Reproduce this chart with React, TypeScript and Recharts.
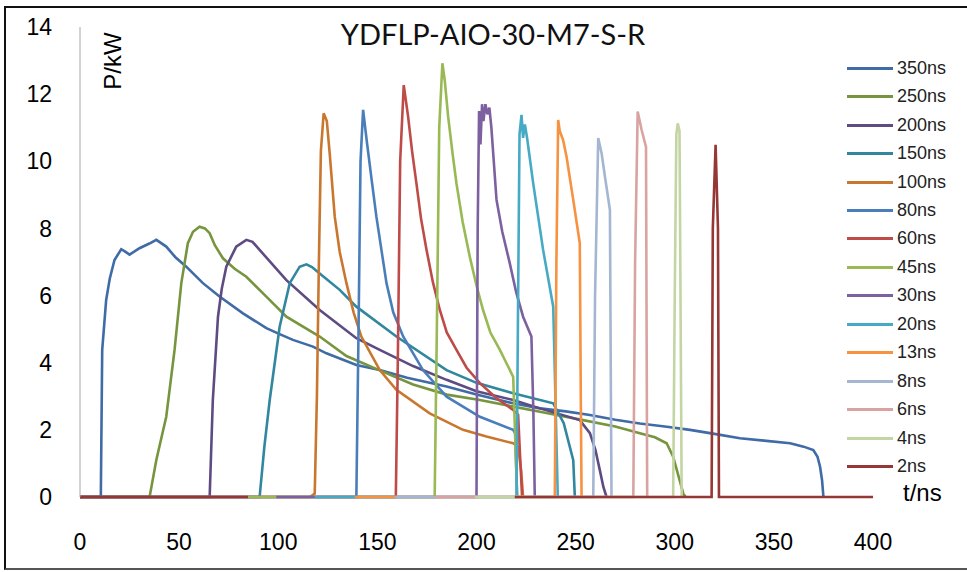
import React from 'react';
import { LineChart, Line, XAxis, YAxis } from 'recharts';

// pulse shapes, t in ns, P in kW
const t350 = [0, 10.5, 11.2, 13.2, 15, 17.4, 20.8, 23, 25, 30, 35, 38.5, 43.5, 48, 53.6, 62, 70.4, 82.2, 94, 100.7, 107.4, 117.5, 124.3, 139.4, 151.2, 165, 184.9, 200, 218.5, 232, 245, 257.2, 270, 282.4, 295, 307.7, 320, 332.9, 345, 358.2, 365, 369.9, 372, 373.3, 374.3, 375];
const p350 = [0, 0, 4.38, 5.87, 6.5, 7.06, 7.38, 7.3, 7.22, 7.41, 7.55, 7.66, 7.46, 7.15, 6.86, 6.37, 5.97, 5.47, 5.03, 4.85, 4.68, 4.48, 4.28, 3.93, 3.78, 3.55, 3.29, 3.05, 2.79, 2.64, 2.55, 2.44, 2.3, 2.19, 2.1, 2.0, 1.88, 1.75, 1.68, 1.6, 1.5, 1.4, 1.2, 0.9, 0.5, 0];

const t250 = [0, 35.1, 38.5, 43.5, 47.7, 51.1, 54.4, 57, 60.3, 63, 65.4, 68, 72.1, 78, 83.9, 94, 104.1, 120.9, 134.4, 150, 168, 185, 201.7, 218, 232, 253.8, 270, 282.4, 290, 295.9, 299.2, 302, 304.3, 305.5];
const p250 = [0, 0, 1.1, 2.39, 4.38, 6.37, 7.56, 7.9, 8.05, 8.0, 7.86, 7.5, 7.11, 6.8, 6.56, 5.97, 5.37, 4.78, 4.2, 3.8, 3.35, 3.05, 2.89, 2.7, 2.54, 2.29, 2.1, 1.9, 1.78, 1.6, 1.2, 0.6, 0.1, 0];

const t200 = [0, 65.4, 67, 69.6, 71.5, 73.8, 78.8, 83.9, 87, 90.6, 104.1, 120.9, 139.4, 151.2, 168, 184.9, 200, 218.5, 232, 252.1, 257.2, 260, 262.2, 264, 265.6];
const p200 = [0, 0, 2.89, 5.37, 6.2, 6.86, 7.46, 7.66, 7.6, 7.36, 6.46, 5.57, 4.73, 4.38, 3.9, 3.49, 3.15, 2.89, 2.64, 2.29, 1.9, 1.4, 0.8, 0.3, 0];

const t150 = [0, 90.6, 93, 95.7, 100.7, 105.8, 110.8, 114.2, 117, 120.9, 131, 139.4, 159.6, 184.9, 200, 218.5, 238.7, 244, 248.8, 249.6];
const p150 = [0, 0, 1.5, 2.89, 5.07, 6.37, 6.86, 6.93, 6.85, 6.66, 6.17, 5.67, 4.78, 3.78, 3.4, 3.09, 2.79, 2.2, 1.1, 0];

const t100 = [0, 116, 118.4, 119.5, 120.5, 121.5, 122.9, 124.5, 126, 128.5, 131, 134.4, 138, 141.9, 151.2, 159.6, 176.4, 193.2, 205, 218.5, 221, 222.5, 223.5];
const p100 = [0, 0, 0.1, 3, 7, 10.3, 11.43, 11.2, 10.2, 8.35, 7.3, 6.37, 5.5, 4.78, 3.78, 3.19, 2.49, 2.0, 1.8, 1.6, 1.5, 0.8, 0];

const t80 = [0, 139.4, 140.5, 141.5, 142.8, 144.8, 147, 149.5, 154.6, 158, 163, 173, 184.9, 201.7, 218.5, 219.5, 220.5];
const p80 = [0, 0, 5, 10, 11.53, 10.53, 9.5, 8.35, 6.37, 5.5, 4.78, 3.78, 2.99, 2.39, 2.0, 1.9, 0];

const t60 = [0, 159.3, 160.3, 161.5, 163.3, 165.5, 167.5, 169.7, 172, 174.8, 178, 181.5, 185, 189.9, 195, 201.7, 210, 218.5, 221, 222, 223];
const p60 = [0, 0, 4, 10, 12.27, 11.33, 10.3, 9.34, 8.3, 7.36, 6.4, 5.57, 4.9, 4.38, 3.85, 3.39, 2.95, 2.59, 2.45, 1.2, 0];

const t45 = [84.7, 178.9, 180, 181.2, 182.8, 184, 185.7, 188, 189.9, 193, 196.6, 200, 203.3, 207, 211.8, 215, 218.5, 219.5, 220.5];
const p45 = [0, 0, 5, 11, 12.92, 12.4, 11.33, 10.2, 9.34, 8.2, 7.16, 6.3, 5.57, 4.9, 4.38, 4.0, 3.58, 1.8, 0];

const t30 = [99, 200, 200.6, 201.3, 202, 202.8, 203.5, 204.5, 205.5, 206.5, 207.5, 210.1, 213, 216.8, 220, 223.5, 227.7, 228.7, 229.4];
const p30 = [0, 0, 8, 11.5, 10.5, 11.7, 11.2, 11.7, 11.4, 11.6, 11.0, 8.85, 7.9, 6.96, 6.1, 5.37, 4.78, 2.5, 0];

const t20 = [118.4, 220.2, 221, 221.7, 222.7, 223.5, 224.4, 225.5, 228.6, 233.6, 238.7, 240, 241];
const p20 = [0, 0, 6, 10.8, 11.38, 10.7, 11.1, 10.7, 9.34, 7.36, 5.67, 2.5, 0];

const t13 = [138.6, 239.5, 240.3, 241.2, 242, 243.7, 245.4, 248.8, 252.1, 252.6, 253];
const p13 = [0, 0, 7, 11.23, 10.9, 10.63, 10.14, 8.85, 7.56, 3, 0];

const t8 = [158.8, 258.9, 259.8, 261.4, 263.1, 264.8, 267.3, 267.7, 268.1];
const p8 = [0, 0, 6, 10.69, 10.24, 9.54, 8.55, 4, 0];

const t6 = [179, 279.1, 280, 281.3, 283.3, 285.5, 285.8, 286.1];
const p6 = [0, 0, 7, 11.48, 10.93, 10.43, 5, 0];

const t4 = [199.2, 299.2, 300, 300.8, 301.5, 302.4, 303, 303.5];
const p4 = [0, 0, 6, 10.8, 11.13, 10.9, 5, 0];

const t2 = [0, 84.7, 84.8, 219.3, 318.6, 319.2, 320.6, 321.8, 322.3, 400];
const p2 = [0, 0, null, 0, 0, 8, 10.49, 8, 0, 0];

const seriesNames = ['350ns', '250ns', '200ns', '150ns', '100ns', '80ns', '60ns', '45ns', '30ns', '20ns', '13ns', '8ns', '6ns', '4ns', '2ns'];
const seriesT = [t350, t250, t200, t150, t100, t80, t60, t45, t30, t20, t13, t8, t6, t4, t2];
const seriesP = [p350, p250, p200, p150, p100, p80, p60, p45, p30, p20, p13, p8, p6, p4, p2];
const seriesColors = ['#3F6BA6', '#77953E', '#5E4B82', '#31879E', '#C9772F', '#4A7EBB', '#BE4B48', '#98B954', '#7D60A0', '#46AAC5', '#F69240', '#A5B6D2', '#D9A3A2', '#C3D5A3', '#953735'];

const xTicks = [0, 50, 100, 150, 200, 250, 300, 350, 400];
const yTicks = [0, 2, 4, 6, 8, 10, 12, 14];

const series = seriesNames.map((name, i) => ({
  name,
  color: seriesColors[i],
  data: seriesT[i].map((t, j) => ({ x: t, y: seriesP[i][j] })),
}));

const tickFont = { fontFamily: '"Liberation Sans", Arial, sans-serif', fontSize: 23, fill: '#000' };

// legend drawn by hand so it doesn't eat into the plot width
const PulseLegend = () => (
  <div style={{ position: 'absolute', left: 847, top: 54, fontFamily: '"Liberation Sans", Arial, sans-serif', fontSize: 18, color: '#222' }}>
    {series.map((s) => (
      <div key={s.name} style={{ display: 'flex', alignItems: 'center', height: 28.46 }}>
        <div style={{ width: 46, height: 3, background: s.color, marginRight: 4 }} />
        <span>{s.name}</span>
      </div>
    ))}
  </div>
);

const App: React.FC = () => {
  return (
    <div style={{ position: 'absolute', left: 0, top: 0, width: 967, height: 572, background: '#fff', overflow: 'hidden' }}>
      {/* outer frame */}
      <div style={{ position: 'absolute', left: 4, top: 6, width: 963, height: 564, borderTop: '2px solid #111', borderLeft: '2px solid #111', borderBottom: '2px solid #555', boxSizing: 'border-box' }} />
      <LineChart width={967} height={572} margin={{ top: 27, right: 94, bottom: 30, left: 0 }}>
        <XAxis
          type="number"
          dataKey="x"
          domain={[0, 400]}
          ticks={xTicks}
          axisLine={false}
          tickLine={false}
          tickSize={0}
          tickMargin={37}
          height={45}
          tick={tickFont}
          allowDataOverflow
        />
        <YAxis
          type="number"
          domain={[0, 14]}
          ticks={yTicks}
          width={80}
          axisLine={{ stroke: '#A6A6A6', strokeWidth: 1 }}
          tickLine={false}
          tickSize={0}
          tickMargin={28}
          tick={tickFont}
        />
        {series.map((s) => (
          <Line
            key={s.name}
            data={s.data}
            dataKey="y"
            name={s.name}
            type="linear"
            stroke={s.color}
            strokeWidth={2.6}
            dot={false}
            activeDot={false}
            isAnimationActive={false}
          />
        ))}
      </LineChart>
      <PulseLegend />
      <div style={{ position: 'absolute', left: 0, width: 986, top: 16, textAlign: 'center', fontFamily: 'Lato, "Noto Sans", sans-serif', fontSize: 29, color: '#111', lineHeight: '36px' }}>
        YDFLP-AIO-30-M7-S-R
      </div>
      <div style={{ position: 'absolute', left: 113, top: 61, transform: 'translate(-50%, -50%) rotate(-90deg)', fontFamily: '"Liberation Sans", Arial, sans-serif', fontSize: 24, color: '#000', whiteSpace: 'nowrap' }}>
        P/kW
      </div>
      <div style={{ position: 'absolute', left: 903, top: 479, fontFamily: '"Liberation Sans", Arial, sans-serif', fontSize: 24, color: '#000', lineHeight: '28px' }}>
        t/ns
      </div>
    </div>
  );
};

export default App;
